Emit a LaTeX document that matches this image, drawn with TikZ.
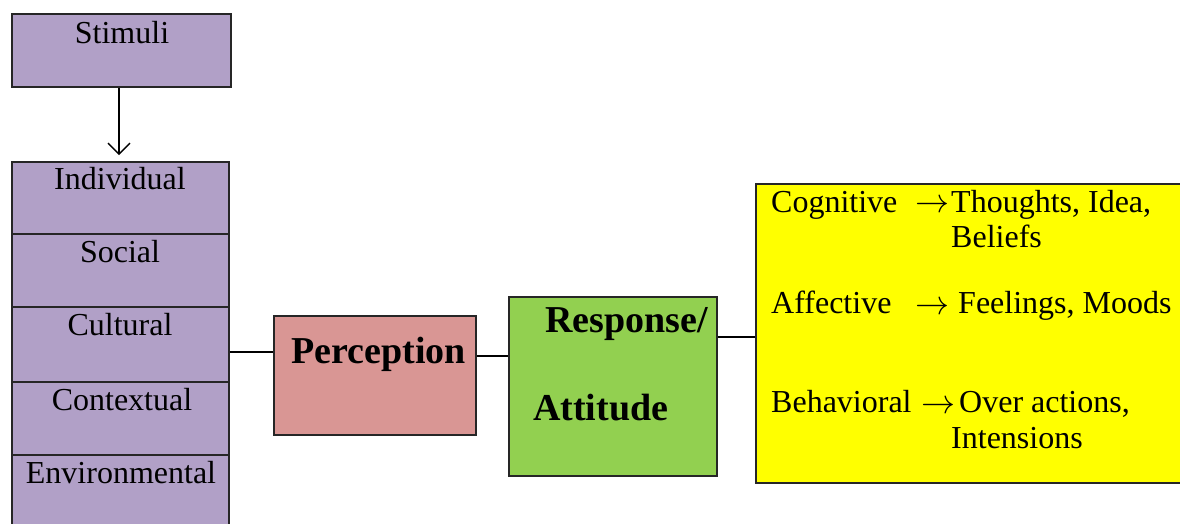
\documentclass[tikz,border=0pt]{standalone}
\usepackage{fontspec}
\usepackage{graphicx}
\setmainfont{Liberation Serif}
\usetikzlibrary{arrows.meta}
\definecolor{lav}{HTML}{B1A0C7}
\definecolor{pinkbox}{HTML}{D99694}
\definecolor{greenbox}{HTML}{92D050}
\definecolor{yel}{HTML}{FFFF00}
\newcommand{\bigarr}{\scalebox{3.4}{\normalsize$\rightarrow$}}
\tikzset{
  box/.style={draw=black!85, line width=1.6pt},
  conn/.style={draw=black, line width=1.4pt},
  txt/.style={inner sep=0pt, anchor=base west, font=\fontsize{32}{38}\selectfont},
  ctxt/.style={inner sep=0pt, anchor=base, font=\fontsize{32}{38}\selectfont},
  btxt/.style={inner sep=0pt, anchor=base west, font=\fontsize{38}{45}\selectfont\bfseries},
  artxt/.style={inner sep=0pt, anchor=base west},
}
\begin{document}
\begin{tikzpicture}[x=1pt,y=-1pt]
\useasboundingbox (0,0) rectangle (1180,523);
\clip (0,0) rectangle (1180,523);
\fill[white] (0,0) rectangle (1180,523);
% Stimuli
\node[box, fill=lav, minimum width=219pt, minimum height=73pt, inner sep=0pt] (stim) at (121.5,50.5) {};
\node[ctxt] (stimt) at (122,43) {Stimuli};
% stack
\node[box, fill=lav, minimum width=217pt, minimum height=72pt, inner sep=0pt] (indb) at (120.5,198) {};
\node[box, fill=lav, minimum width=217pt, minimum height=73pt, inner sep=0pt] (socb) at (120.5,270.5) {};
\node[box, fill=lav, minimum width=217pt, minimum height=75pt, inner sep=0pt] (culb) at (120.5,344.5) {};
\node[box, fill=lav, minimum width=217pt, minimum height=73pt, inner sep=0pt] (conb) at (120.5,418.5) {};
\node[box, fill=lav, minimum width=217pt, minimum height=85pt, inner sep=0pt] (envb) at (120.5,497.5) {};
\node[ctxt] (ind) at (120,189) {Individual};
\node[ctxt] (soc) at (120,262) {Social};
\node[ctxt] (cul) at (120,335) {Cultural};
\node[ctxt] (con) at (122,410) {Contextual};
\node[ctxt] (env) at (121,483) {Environmental};
\draw[conn, -{Straight Barb[length=11pt,width=22pt,line width=1.4pt]}, shorten >=6pt] (stim.south -| 119,0) -- (indb.north -| 119,0);
% Perception
\node[box, fill=pinkbox, minimum width=202pt, minimum height=119pt, inner sep=0pt] (perc) at (375,375.5) {};
\node[btxt] (perct) at (291,363) {Perception};
% Response
\node[box, fill=greenbox, minimum width=208pt, minimum height=179pt, inner sep=0pt] (resp) at (613,386.5) {};
\node[btxt] (respt) at (545,332) {Response/};
\node[btxt] (attt) at (533,420) {Attitude};
% yellow
\node[box, fill=yel, minimum width=444pt, minimum height=299pt, inner sep=0pt] (yb) at (978,333.5) {};
\node[txt] (cog) at (771,212) {Cognitive};
\node[artxt] (cogar) at (915,212) {\bigarr};
\node[txt] (cogv) at (951,212) {Thoughts, Idea,};
\node[txt] (bel) at (951,247) {Beliefs};
\node[txt] (aff) at (771,313) {Affective};
\node[artxt] (affar) at (915,314) {\bigarr};
\node[txt] (affv) at (958,313) {Feelings, Moods};
\node[txt] (beh) at (771,412) {Behavioral};
\node[artxt] (behar) at (921,413) {\bigarr};
\node[txt] (behv) at (959,412) {Over actions,};
\node[txt] (intn) at (951,448) {Intensions};
% connectors
\draw[conn] (culb.east |- 0,352) -- (perc.west |- 0,352);
\draw[conn] (perc.east |- 0,356) -- (resp.west |- 0,356);
\draw[conn] (resp.east |- 0,337) -- (yb.west |- 0,337);
\end{tikzpicture}
\end{document}
